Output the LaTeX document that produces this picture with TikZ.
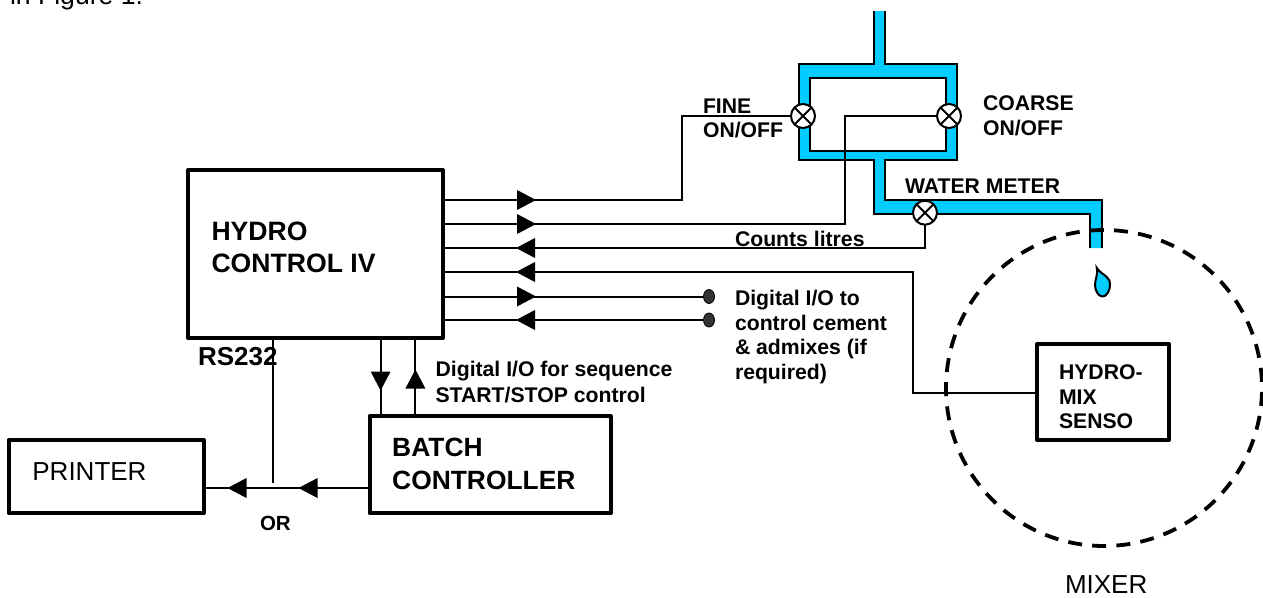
\documentclass[tikz,border=0pt]{standalone}
\usepackage{fontspec}
\setmainfont{Liberation Sans}
\usetikzlibrary{shapes.geometric}
\definecolor{pipeblue}{HTML}{00CCFF}
\definecolor{dotgrey}{HTML}{333333}
\tikzset{
  sig/.style={line width=2pt,line join=miter},
  boxn/.style={draw,line width=4pt,rectangle,inner sep=0pt,outer sep=0pt,line join=round},
  valve/.style={draw,fill=white,circle,line width=2pt,minimum size=24pt,inner sep=0pt,outer sep=0pt},
  portdot/.style={draw=black,fill=dotgrey,ellipse,line width=.8pt,minimum width=11pt,minimum height=14pt,inner sep=0pt,outer sep=0pt},
  lab/.style={anchor=base west,inner sep=0pt,outer sep=0pt,font=\fontsize{21.2pt}{21.2pt}\bfseries},
  big/.style={anchor=base west,inner sep=0pt,outer sep=0pt,font=\fontsize{26.6pt}{26.6pt}\bfseries},
  reg/.style={anchor=base west,inner sep=0pt,outer sep=0pt,font=\fontsize{26pt}{26pt}\selectfont},
  tip/.style={fill=black,draw=none}
}
\newcommand{\tri}[3]{\fill[tip,shift={(#1,#2)},rotate=#3] (9.5,0) -- (-9.5,10) -- (-9.5,-10) -- cycle;}
\begin{document}
\begin{tikzpicture}[x=1pt,y=-1pt]
\useasboundingbox (0,0) rectangle (1263,597);
\fill[white] (0,0) rectangle (1263,597);
% pipework
\fill[pipeblue] (874,11) -- (874,64) -- (799,64) -- (799,160) -- (874,160) -- (874,214) -- (1090,214) -- (1090,248)
  -- (1102,248) -- (1102,200) -- (885,200) -- (885,160) -- (957,160) -- (957,64) -- (885,64) -- (885,11) -- cycle;
\fill[white] (810,78) rectangle (946,151);
\draw[sig] (874,11) -- (874,64) -- (799,64) -- (799,160) -- (874,160) -- (874,214) -- (1090,214) -- (1090,248);
\draw[sig] (1102,248) -- (1102,200) -- (885,200) -- (885,160) -- (957,160) -- (957,64) -- (885,64) -- (885,11);
\draw[sig] (810,78) rectangle (946,151);
\draw[sig,fill=pipeblue] (1096.7,267.7) .. controls (1100,274) and (1110,276) .. (1110,284)
  .. controls (1110,292) and (1106,296.5) .. (1102.5,296.5) .. controls (1098,296.5) and (1095,290) .. (1095,285)
  .. controls (1095,279) and (1098,276) .. cycle;
% boxes
\node[boxn,minimum width=255pt,minimum height=168pt] (hydro) at (315.5,254) {};
\node[boxn,minimum width=195pt,minimum height=73pt] (printer) at (106,476.5) {};
\node[boxn,minimum width=241pt,minimum height=97pt] (batch) at (490,464.5) {};
\node[boxn,minimum width=132pt,minimum height=96pt] (sensor) at (1103,392) {};
\node[valve] (fine) at (803,116) {};
\node[valve] (coarse) at (949,116) {};
\node[valve] (meter) at (925,212.7) {};
\node[portdot] (dota) at (709,296.5) {};
\node[portdot] (dotb) at (709,320) {};
\foreach \v in {fine,coarse,meter}{
  \draw[line width=2pt] (\v.45) -- (\v.225);
  \draw[line width=2pt] (\v.135) -- (\v.315);
}
\coordinate (rsjoin) at (273,483);
% connectors
\draw[sig] (hydro.east |- 0,200) -| (681.6,116) -- (fine.west);
\draw[sig] (hydro.east |- 0,224) -| (845,116) -- (coarse.west);
\draw[sig] (meter.south) |- (hydro.east |- 0,248);
\draw[sig] (sensor.west |- 0,393) -| (913,272) -- (hydro.east |- 0,272);
\draw[sig] (hydro.east |- 0,296.5) -- (dota.west);
\draw[sig] (hydro.east |- 0,320) -- (dotb.west);
\draw[sig] (hydro.south -| 380.6,0) -- (batch.north -| 380.6,0);
\draw[sig] (batch.north -| 415.4,0) -- (hydro.south -| 415.4,0);
\draw[sig] (hydro.south -| rsjoin) -- (rsjoin);
\draw[sig] (batch.west |- 0,488) -- (printer.east |- 0,488);
% arrowheads
\tri{526.5}{200}{0}
\tri{526.5}{224}{0}
\tri{525.5}{248}{180}
\tri{525.5}{272}{180}
\tri{526.5}{296.5}{0}
\tri{525.5}{320}{180}
\tri{380.6}{381}{270}
\tri{415.4}{379}{90}
\tri{237}{488}{180}
\tri{308}{488}{180}
% mixer
\node[draw,circle,line width=3.8pt,minimum size=316pt,inner sep=0pt,outer sep=0pt,dash pattern=on 14pt off 10.22pt,dash phase=18pt] (mixer) at (1104,388) {};
% labels
\node[reg,font=\fontsize{26.6pt}{26.6pt}\selectfont] (tfig) at (10,5) {in Figure 1.};
\node[big] (thydroa) at (211.5,240.7) {HYDRO};
\node[big] (thydrob) at (211.5,272.7) {CONTROL IV};
\node[big,font=\fontsize{26pt}{26pt}\bfseries] (trs) at (198,365.7) {RS232};
\node[lab] (tfinea) at (703,113) {FINE};
\node[lab] (tfineb) at (703,137.7) {ON/OFF};
\node[lab] (tcoarsea) at (983,110.7) {COARSE};
\node[lab] (tcoarseb) at (983,135.7) {ON/OFF};
\node[lab] (tmeter) at (905,193.7) {WATER METER};
\node[lab] (tcounts) at (735,246.7) {Counts litres};
\node[lab] (tioa) at (735,305) {Digital I/O to};
\node[lab] (tiob) at (735,330) {control cement};
\node[lab] (tioc) at (735,354) {\&\ admixes (if};
\node[lab] (tiod) at (735,379) {required)};
\node[lab] (tseqa) at (435.6,376.7) {Digital I/O for sequence};
\node[lab] (tseqb) at (435.6,402.7) {START/STOP control};
\node[big,font=\fontsize{26.4pt}{26.4pt}\bfseries] (tbatcha) at (392.2,456.7) {BATCH};
\node[big,font=\fontsize{26.4pt}{26.4pt}\bfseries] (tbatchb) at (392.2,489) {CONTROLLER};
\node[reg] (tprinter) at (32.4,480.7) {PRINTER};
\node[lab,font=\fontsize{20.5pt}{20.5pt}\bfseries] (tor) at (260,530.5) {OR};
\node[lab] (tsa) at (1059,379) {HYDRO-};
\node[lab] (tsb) at (1059,404) {MIX};
\node[lab] (tsc) at (1059,428) {SENSO};
\node[reg] (tmixer) at (1065,593) {MIXER};
\end{tikzpicture}
\end{document}
